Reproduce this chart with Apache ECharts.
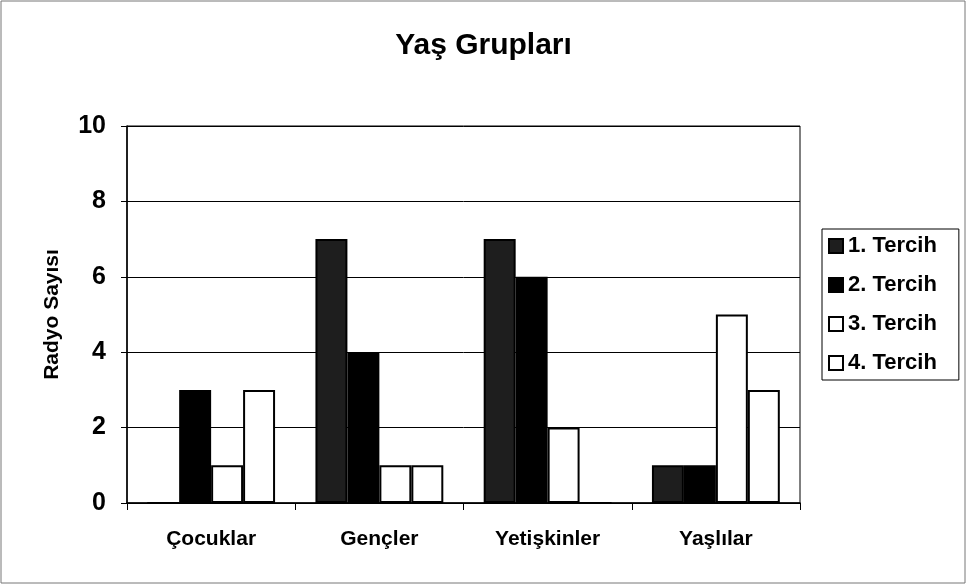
<!DOCTYPE html>
<html>
<head>
<meta charset="utf-8">
<script src="https://cdn.jsdelivr.net/npm/echarts@6/dist/echarts.min.js"></script>
<style>
  html, body { margin: 0; padding: 0; background: #fff; }
  #chart { width: 967px; height: 585px; }
</style>
</head>
<body>
<div id="chart"></div>
<script>
// kategoriler ve seriler
var categories = ["Çocuklar", "Gençler", "Yetişkinler", "Yaşlılar"];
var seriesNames = ["1. Tercih", "2. Tercih", "3. Tercih", "4. Tercih"];
var tercih1 = [0, 7, 7, 1];
var tercih2 = [3, 4, 6, 1];
var tercih3 = [1, 1, 2, 5];
var tercih4 = [3, 1, 0, 3];
var yTicks = [0, 2, 4, 6, 8, 10];

var font = "Liberation Sans, Arial, sans-serif";
var chart = echarts.init(document.getElementById("chart"));

function bar(name, data, fill) {
  return {
    name: name,
    type: "bar",
    data: data,
    barGap: "0%",
    barCategoryGap: "24%",
    itemStyle: { color: fill, borderColor: "#000", borderWidth: 2 }
  };
}

var option = {
  backgroundColor: "#fff",
  animation: false,
  title: {
    text: "Yaş Grupları",
    left: "center",
    top: 26,
    textStyle: { fontFamily: font, fontSize: 30, fontWeight: "bold", color: "#000" }
  },
  grid: {
    left: 127, right: 167, top: 126, bottom: 82,
    show: true, borderColor: "#000", borderWidth: 1
  },
  legend: {
    orient: "vertical",
    left: 822,
    top: 229,
    data: seriesNames,
    icon: "rect",
    itemWidth: 14,
    itemHeight: 14,
    itemGap: 17,
    padding: [6, 22, 6, 6],
    borderColor: "#000",
    borderWidth: 1,
    textStyle: { fontFamily: font, fontSize: 22, fontWeight: "bold", color: "#000" }
  },
  xAxis: {
    type: "category",
    data: categories,
    axisLine: { lineStyle: { color: "#000", width: 1.5 } },
    axisTick: { show: true, length: 7, lineStyle: { color: "#000" } },
    axisLabel: { margin: 26, fontFamily: font, fontSize: 21, fontWeight: "bold", color: "#000" }
  },
  yAxis: {
    type: "value",
    min: yTicks[0],
    max: yTicks[yTicks.length - 1],
    interval: 2,
    name: "Radyo Sayısı",
    nameLocation: "middle",
    nameGap: 64,
    nameTextStyle: { fontFamily: font, fontSize: 21, fontWeight: "bold", color: "#000" },
    axisLine: { show: true, lineStyle: { color: "#000", width: 1.5 } },
    axisTick: { show: true, length: 6, lineStyle: { color: "#000" } },
    axisLabel: { margin: 21, fontFamily: font, fontSize: 25, fontWeight: "bold", color: "#000" },
    splitLine: { show: true, lineStyle: { color: "#000", width: 1 } }
  },
  graphic: [{
    type: "rect",
    shape: { x: 1, y: 1, width: 964, height: 582 },
    style: { fill: "none", stroke: "#777", lineWidth: 1 },
    silent: true
  }],
  series: [
    bar(seriesNames[0], tercih1, "#1e1e1e"),
    bar(seriesNames[1], tercih2, "#000"),
    bar(seriesNames[2], tercih3, "#fff"),
    bar(seriesNames[3], tercih4, "#fff")
  ]
};
chart.setOption(option);
</script>
</body>
</html>
